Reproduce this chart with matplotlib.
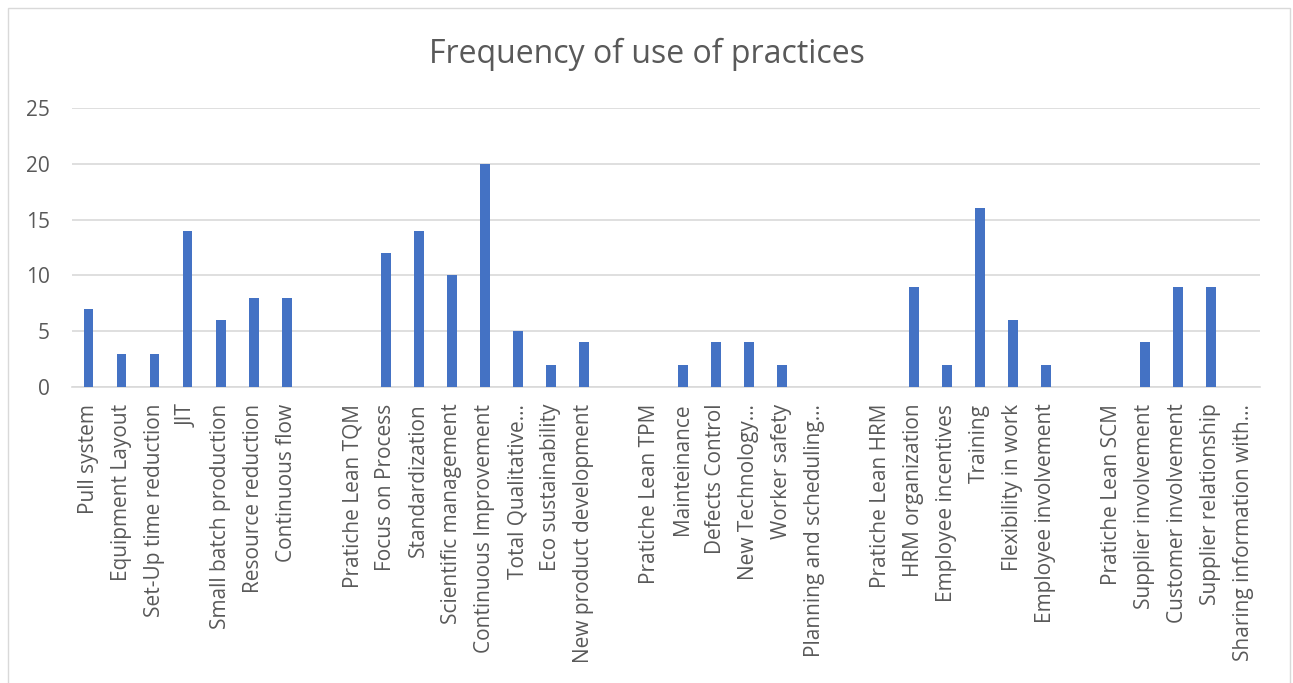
import matplotlib.pyplot as plt
from matplotlib.patches import Rectangle

plt.rcParams['font.family'] = ['Open Sans', 'DejaVu Sans']

practices = [
    'Pull system', 'Equipment Layout', 'Set-Up time reduction', 'JIT',
    'Small batch production', 'Resource reduction', 'Continuous flow', '',
    'Pratiche Lean TQM', 'Focus on Process', 'Standardization',
    'Scientific management', 'Continuous Improvement', 'Total Qualitative…',
    'Eco sustainability', 'New product development', '',
    'Pratiche Lean TPM', 'Mainteinance', 'Defects Control', 'New Technology…',
    'Worker safety', 'Planning and scheduling…', '',
    'Pratiche Lean HRM', 'HRM organization', 'Employee incentives', 'Training',
    'Flexibility in work', 'Employee involvement', '',
    'Pratiche Lean SCM', 'Supplier involvement', 'Customer involvement',
    'Supplier relationship', 'Sharing information with…',
]
frequency = [
    7, 3, 3, 14, 6, 8, 8, 0,
    0, 12, 14, 10, 20, 5, 2, 4, 0,
    0, 2, 4, 4, 2, 0, 0,
    0, 9, 2, 16, 6, 2, 0,
    0, 4, 9, 9, 0,
]

TEXT = '#595959'
GRID = '#d9d9d9'

fig = plt.figure(figsize=(12.93, 6.83), dpi=100)
ax = fig.add_axes([0.0557, 0.4334, 0.919, 0.4085])

x = range(len(practices))
ax.bar(x, frequency, width=0.3, color='#4472C4', zorder=3)

ax.set_xlim(-0.5, len(practices) - 0.5)
ax.set_ylim(0, 25)
ax.set_yticks([0, 5, 10, 15, 20, 25])
ax.set_xticks(list(x))
ax.set_xticklabels(practices, rotation=90, fontsize=15, color=TEXT)
ax.tick_params(axis='y', labelsize=15, labelcolor=TEXT, length=0, pad=16)
ax.tick_params(axis='x', length=0, pad=12)
ax.grid(axis='y', color=GRID, linewidth=1.2, zorder=0)
for side in ['top', 'right', 'left']:
    ax.spines[side].set_visible(False)
ax.spines['bottom'].set_color(GRID)
ax.spines['bottom'].set_linewidth(1.2)

fig.text(0.5, 0.921, 'Frequency of use of practices', ha='center', va='center',
         fontsize=23, color=TEXT)

# outer chart frame
fig.patches.append(Rectangle((8 / 1293, -0.05), 1282 / 1293, 1.05 - 8 / 683,
                             transform=fig.transFigure, fill=False,
                             edgecolor=GRID, linewidth=1))

fig.savefig('out.png', dpi=100)
